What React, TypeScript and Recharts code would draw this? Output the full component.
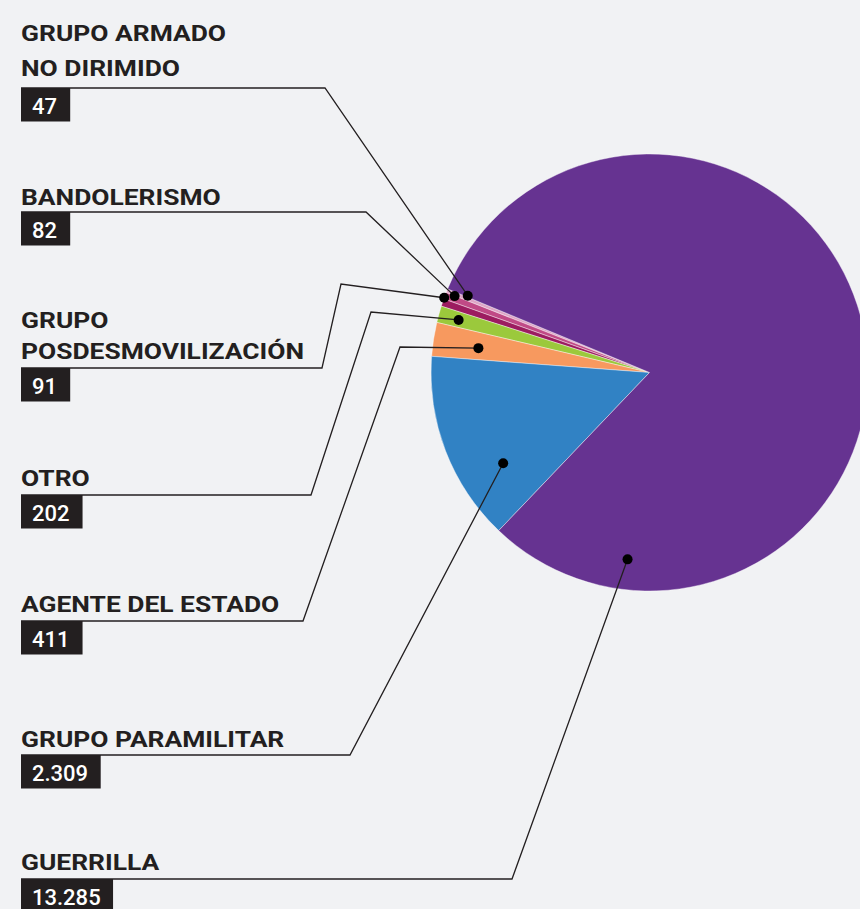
import React from "react";
import { PieChart, Pie, Cell } from "recharts";

// slices, in drawing order (counter-clockwise from the top-left wedge)
const titles: string[][] = [
  ["GRUPO ARMADO", "NO DIRIMIDO"],
  ["BANDOLERISMO"],
  ["GRUPO", "POSDESMOVILIZACIÓN"],
  ["OTRO"],
  ["AGENTE DEL ESTADO"],
  ["GRUPO PARAMILITAR"],
  ["GUERRILLA"],
];
const values = [47, 82, 91, 202, 411, 2309, 13285];
const colors = ["#dea6c6", "#c04a86", "#9c1c60", "#9bc93c", "#f7995f", "#3182c4", "#663391"];

// annotation layout: title baselines, rule under the title, elbows, and where the dot sits in the pie
const layout = [
  { baselines: [41, 76], ruleY: 88, ruleEnd: 325, elbows: [] as number[][], dotAngle: 157.1, dotR: 0.903 },
  { baselines: [205], ruleY: 212, ruleEnd: 366, elbows: [], dotAngle: 158.6, dotR: 0.958 },
  { baselines: [328, 359], ruleY: 368, ruleEnd: 322, elbows: [[341, 284]], dotAngle: 160.0, dotR: 1.0 },
  { baselines: [486], ruleY: 495, ruleEnd: 311, elbows: [[371, 312]], dotAngle: 164.6, dotR: 0.906 },
  { baselines: [612], ruleY: 621, ruleEnd: 303, elbows: [[400, 347]], dotAngle: 171.9, dotR: 0.791 },
  { baselines: [747], ruleY: 755, ruleEnd: 350, elbows: [], dotAngle: 211.8, dotR: 0.788 },
  { baselines: [870], ruleY: 879, ruleEnd: 512, elbows: [], dotAngle: 263.3, dotR: 0.861 },
];

const data = values.map((v, i) => ({ name: titles[i].join(" "), value: v }));
const INK = "#231f20";

const fmt = (v: number) => String(v).replace(/\B(?=(\d{3})+(?!\d))/g, ".");
const textWidth = (s: string) => s.split("").reduce((w, c) => w + (c === "." ? 5.8 : 12.35), 0);

function renderLabel(props: any) {
  const { cx, cy, outerRadius, index } = props;
  const L = layout[index];
  const a = (L.dotAngle * Math.PI) / 180;
  const dx = cx + L.dotR * outerRadius * Math.cos(a);
  const dy = cy - L.dotR * outerRadius * Math.sin(a);
  const pts = [[21, L.ruleY], [L.ruleEnd, L.ruleY], ...L.elbows, [dx, dy]];
  const num = fmt(values[index]);
  const boxW = 11 + textWidth(num) + 13.5;
  return (
    <g key={`lbl-${index}`}>
      <polyline points={pts.map((p) => p.join(",")).join(" ")} fill="none" stroke={INK} strokeWidth={1.3} />
      <circle cx={dx} cy={dy} r={5} fill="#000" />
      {titles[index].map((t, j) => (
        <text
          key={t}
          transform={`translate(21 ${L.baselines[j]}) scale(1.2 1)`}
          fill={INK}
          fontSize={22}
          fontWeight={700}
          fontFamily="Roboto"
        >
          {t}
        </text>
      ))}
      <rect x={21} y={L.ruleY} width={boxW} height={33.5} fill={INK} />
      <text x={32} y={L.ruleY + 26} fill="#fff" fontSize={22} fontWeight={500} fontFamily="Roboto">
        {num}
      </text>
    </g>
  );
}

export default function App() {
  return (
    <div style={{ position: "absolute", left: 0, top: 0, width: 860, height: 909, background: "#f1f2f4" }}>
      <PieChart width={860} height={909} margin={{ top: 0, right: 0, bottom: 0, left: 0 }}>
        <Pie
          data={data}
          dataKey="value"
          cx={649.5}
          cy={372.5}
          outerRadius={218.5}
          startAngle={157.5}
          endAngle={517.5}
          stroke="#fff"
          strokeWidth={0.4}
          label={renderLabel}
          labelLine={false}
          isAnimationActive={false}
        >
          {data.map((d, i) => (
            <Cell key={d.name} fill={colors[i]} />
          ))}
        </Pie>
      </PieChart>
    </div>
  );
}
